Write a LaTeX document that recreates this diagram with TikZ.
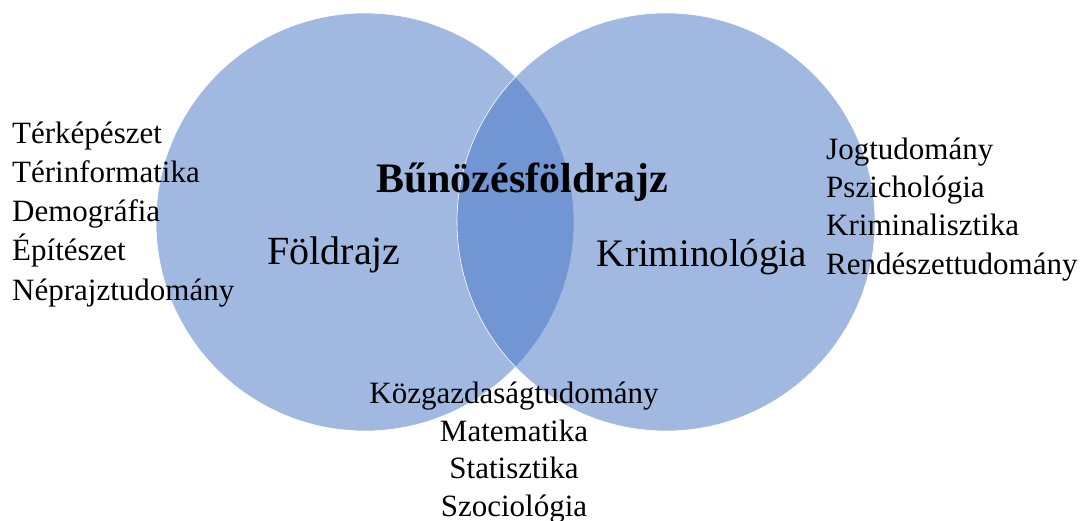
\documentclass[tikz,border=0pt]{standalone}
\usepackage{fontspec}
\setmainfont{Liberation Serif}
\usepackage{tikz}
\usetikzlibrary{positioning}
\definecolor{vennblue}{HTML}{4472C4}
\tikzset{
  venn schemes/.style = {
    x = 1pt, y = -1pt,
    % Körök
    circ/.style = {
      circle, inner sep=0pt,
      minimum size=418pt,
      fill=vennblue, fill opacity=0.5,
      draw=white, line width=0.6pt
    },
    % Szövegek
    lst/.style  = { inner sep=0pt, anchor=base west,
                    font=\fontsize{31}{37}\selectfont },
    lstc/.style = { lst, anchor=base },
    big/.style  = { inner sep=0pt, anchor=base,
                    font=\fontsize{40}{48}\selectfont },
  }
}

\begin{document}
\begin{tikzpicture}[venn schemes]
\useasboundingbox (0,0) rectangle (1081,521);

\node[circ] (geo)  at (365,222) {};
\node[circ] (krim) at (666,222) {};

\node[big, font=\fontsize{42}{48}\selectfont\bfseries] (title) at (522,193) {Bűnözésföldrajz};
\node[big] (geoname)  at (334,265) {Földrajz};
\node[big, font=\fontsize{39}{48}\selectfont] (krimname) at (702,266) {Kriminológia};

\foreach \t [count=\i] in {Térképészet, Térinformatika, Demográfia, Építészet, Néprajztudomány}
  \node[lst] (geo-\i) at (12, 104+39.2*\i) {\t};

\foreach \t [count=\i] in {Jogtudomány, Pszichológia, Kriminalisztika, Rendészettudomány}
  \node[lst] (krim-\i) at (826, 122+38*\i) {\t};

\foreach \t [count=\i] in {Közgazdaságtudomány, Matematika, Statisztika, Szociológia}
  \node[lstc] (kozos-\i) at (514, 366+37.5*\i) {\t};

\end{tikzpicture}
\end{document}
